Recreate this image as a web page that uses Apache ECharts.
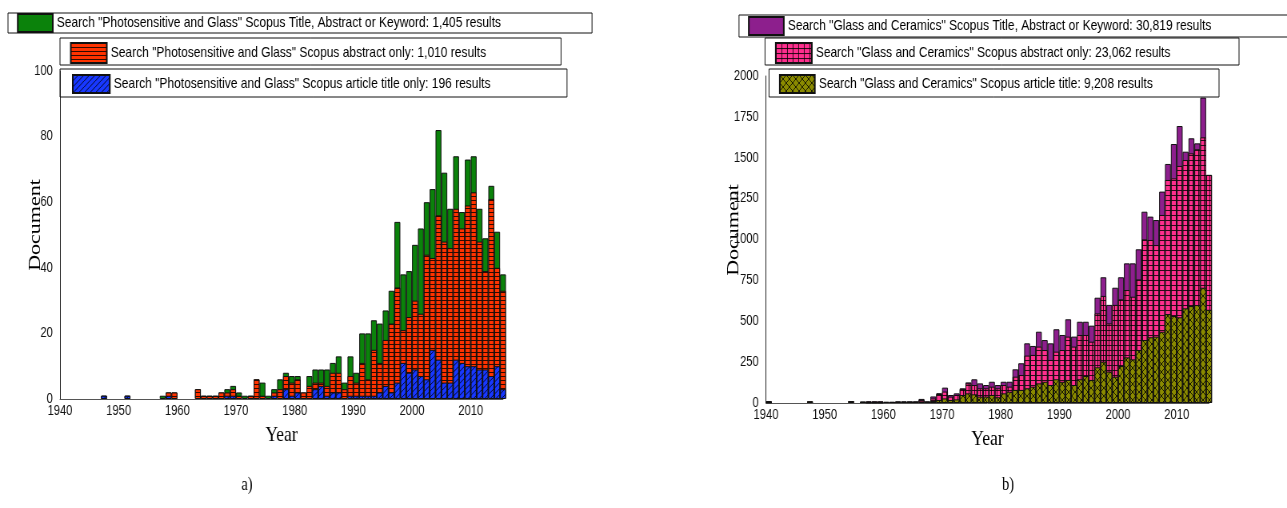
<!DOCTYPE html>
<html>
<head>
<meta charset="utf-8">
<script src="https://cdn.jsdelivr.net/npm/echarts@6/dist/echarts.min.js"></script>
<style>
  html, body { margin: 0; padding: 0; background: #fff; overflow: hidden; }
  #frame { width: 1287px; height: 508px; overflow: hidden; position: relative; }
  #chart { position: absolute; left: 0; top: 0; transform-origin: 0 0; }
</style>
</head>
<body>
<div id="frame"><div id="chart"></div></div>
<script>
// Publication years covered by both panels (one bar per year, 1940 … 2015)
const FIRST_YEAR = 1940;
const YEARS = Array.from({ length: 76 }, (_, i) => FIRST_YEAR + i);

// Panel a) – "Photosensitive and Glass"
const PHOTO_NAMES = [
  'Search "Photosensitive and Glass" Scopus Title, Abstract or Keyword: 1,405 results',
  'Search "Photosensitive and Glass" Scopus abstract only: 1,010 results',
  'Search "Photosensitive and Glass" Scopus article title only: 196 results'
];
const PHOTO_TOTAL = [
  0,0,0,0,0,0,0,1,0,0,
  0,1,0,0,0,0,0,1,2,2,
  0,0,0,3,1,1,1,2,3,4,
  2,1,1,6,5,1,3,6,8,7,
  7,2,7,9,9,9,11,13,5,13,
  8,20,20,24,23,27,33,54,38,39,
  47,52,60,64,82,69,58,74,57,73,
  74,58,49,65,51,38
];
const PHOTO_ABSTRACT = [
  0,0,0,0,0,0,0,1,0,0,
  0,1,0,0,0,0,0,0,2,2,
  0,0,0,3,1,1,1,2,2,3,
  1,0,1,6,1,0,2,3,7,5,
  6,2,4,5,5,4,8,8,3,7,
  5,11,6,15,11,18,23,34,21,25,
  30,26,44,43,56,48,46,58,52,59,
  63,48,39,61,40,33
];
const PHOTO_TITLE = [
  0,0,0,0,0,0,0,1,0,0,
  0,1,0,0,0,0,0,0,1,0,
  0,0,0,0,0,0,0,0,1,1,
  0,0,0,0,0,0,1,0,3,1,
  2,0,0,3,4,1,2,2,0,1,
  1,1,1,1,2,4,2,5,11,8,
  9,7,6,15,12,5,5,12,11,10,
  10,9,9,7,10,3
];

// Panel b) – "Glass and Ceramics"
const CERAMIC_NAMES = [
  'Search "Glass and Ceramics" Scopus Title, Abstract or Keyword: 30,819 results',
  'Search "Glass and Ceramics" Scopus abstract only: 23,062 results',
  'Search "Glass and Ceramics" Scopus article title: 9,208 results'
];
const CERAMIC_TOTAL = [
  12,0,0,0,0,0,0,10,0,0,
  0,0,0,0,12,0,8,10,10,10,
  8,8,10,10,10,10,25,10,40,60,
  94,49,59,90,126,145,120,110,130,110,
  130,130,206,243,365,349,436,385,365,451,
  416,512,406,497,497,473,644,769,600,705,
  769,854,854,940,1170,1140,1119,1293,1462,1584,
  1694,1537,1619,1588,1868,1395
];
const CERAMIC_ABSTRACT = [
  8,0,0,0,0,0,0,10,0,0,
  0,0,0,0,12,0,8,10,10,10,
  6,6,8,8,8,8,20,8,28,55,
  70,39,49,85,120,110,90,90,100,90,
  110,100,161,171,290,294,345,324,263,314,
  324,406,345,416,416,375,548,655,487,600,
  634,691,650,756,1001,997,966,1150,1364,1374,
  1450,1486,1527,1552,1625,1395
];
const CERAMIC_TITLE = [
  4,0,0,0,0,0,0,10,0,0,
  0,0,0,0,12,0,8,3,3,3,
  6,6,8,8,8,8,10,8,12,18,
  28,18,22,49,59,53,39,39,49,35,
  59,69,80,80,90,100,120,130,110,145,
  130,141,110,145,165,141,218,253,192,161,
  226,279,267,324,385,402,406,436,544,532,
  524,579,593,599,705,570
];

// Axis tick settings
const X_MIN = 1940, X_MAX = 2015.5, X_STEP = 10;
const PHOTO_Y = { max: 100, step: 20 };
const CERAMIC_Y = { max: 2000, step: 250 };

// ---- page geometry: the figure is drawn wide and compressed horizontally ----
const PAGE_W = 1287, PAGE_H = 508;
const DRAW_W = 1609;
const SX = PAGE_W / DRAW_W;
const V = x => x / SX;              // page x  ->  drawing x

// ---- fill patterns --------------------------------------------------------
function tile(bg, w, h, draw) {
  const c = document.createElement('canvas');
  c.width = w; c.height = h;
  const g = c.getContext('2d');
  g.fillStyle = bg;
  g.fillRect(0, 0, w, h);
  g.strokeStyle = 'rgba(0,0,0,0.8)';
  g.lineWidth = 1;
  g.beginPath();
  draw(g, w, h);
  g.stroke();
  return { image: c, repeat: 'repeat' };
}
const FILL = {
  green: '#0b820b',
  red: tile('#ff3300', 6, 4, (g, w) => { g.moveTo(0, 0.5); g.lineTo(w, 0.5); }),
  blue: tile('#1838ff', 7, 6, (g, w, h) => {
    g.moveTo(0, h); g.lineTo(w, 0);
    g.moveTo(-w, h); g.lineTo(0, 0);
    g.moveTo(w, h); g.lineTo(2 * w, 0);
  }),
  purple: '#8d1f8d',
  pink: tile('#ff2f8e', 7, 5, (g, w, h) => {
    g.moveTo(0.5, 0); g.lineTo(0.5, h);
    g.moveTo(0, 0.5); g.lineTo(w, 0.5);
  }),
  olive: tile('#8a8a00', 8, 8, (g, w, h) => {
    g.moveTo(0, 0); g.lineTo(w, h);
    g.moveTo(w, 0); g.lineTo(0, h);
  })
};

// ---- plot areas (page pixels) -----------------------------------------------
const PLOTS = [
  { x0: 60, x1: 503, y0: 71, y1: 399 },
  { x0: 766, x1: 1209, y0: 76, y1: 403 }
];
const GRIDS = PLOTS.map(p => ({
  left: V(p.x0), right: DRAW_W - V(p.x1), top: p.y0, bottom: PAGE_H - p.y1
}));
const BAR_W = (V(PLOTS[0].x1) - V(PLOTS[0].x0)) / (X_MAX - X_MIN);

const SANS = '"Liberation Sans", Arial, sans-serif';
const SERIF = '"Liberation Serif", "Times New Roman", serif';
const TICK_FONT = { fontFamily: SANS, fontSize: 14, color: '#111' };

function xAxis(gridIndex) {
  return {
    type: 'value', gridIndex, min: X_MIN, max: X_MAX, interval: X_STEP,
    name: 'Year', nameLocation: 'middle', nameGap: 25,
    nameTextStyle: { fontFamily: SERIF, fontSize: 22, color: '#000' },
    axisLine: { lineStyle: { color: '#555', width: 1 } },
    axisTick: { show: false },
    splitLine: { show: false },
    axisLabel: { ...TICK_FONT, margin: 5, formatter: v => (v % X_STEP === 0 ? String(v) : '') }
  };
}
function yAxis(gridIndex, cfg) {
  return {
    type: 'value', gridIndex, min: 0, max: cfg.max, interval: cfg.step,
    axisLine: { show: true, lineStyle: { color: '#222', width: 1 } },
    axisTick: { show: false },
    splitLine: { show: false },
    axisLabel: { ...TICK_FONT, margin: 9, formatter: v => String(v) }
  };
}

function barSeries(name, values, fill, axis) {
  return {
    name, type: 'bar', xAxisIndex: axis, yAxisIndex: axis,
    data: YEARS.map((y, i) => (values[i] > 0 ? [y + 0.5, values[i]] : null)).filter(Boolean),
    barWidth: BAR_W, barGap: '-100%',
    clip: true,
    itemStyle: { color: fill, borderColor: '#111', borderWidth: 1 },
    emphasis: { disabled: true }
  };
}

// Boxed legend entry, given in page pixels:
// box left/top/right, icon left/width/height, padding above and below
function legendBox(name, b) {
  return {
    data: [name],
    left: V(b.left), top: b.top,
    padding: [b.padTop, 0, b.padBottom, V(b.iconLeft) - V(b.left)],
    orient: 'horizontal', itemGap: 0,
    itemWidth: V(b.iconLeft + b.iconW) - V(b.iconLeft), itemHeight: b.iconH,
    icon: 'rect', selectedMode: false,
    borderColor: '#111', borderWidth: 1,
    textStyle: {
      fontFamily: SANS, fontSize: 15, color: '#000',
      lineHeight: b.iconH,
      width: V(b.right) - V(b.iconLeft + b.iconW) - 6,
      overflow: 'none'
    }
  };
}

const chart = echarts.init(document.getElementById('chart'), null,
  { renderer: 'canvas', width: DRAW_W, height: PAGE_H });
document.getElementById('chart').style.transform = 'scaleX(' + SX + ')';

chart.setOption({
  animation: false,
  backgroundColor: '#fff',
  grid: GRIDS,
  xAxis: [xAxis(0), xAxis(1)],
  yAxis: [yAxis(0, PHOTO_Y), yAxis(1, CERAMIC_Y)],
  legend: [
    legendBox(PHOTO_NAMES[0],   { left: 8,   top: 13, right: 592,  iconLeft: 17,  iconW: 35, iconH: 18, padTop: 0, padBottom: 0 }),
    legendBox(PHOTO_NAMES[1],   { left: 60,  top: 38, right: 561,  iconLeft: 70,  iconW: 36, iconH: 20, padTop: 4, padBottom: 1 }),
    legendBox(PHOTO_NAMES[2],   { left: 60,  top: 69, right: 567,  iconLeft: 72,  iconW: 37, iconH: 18, padTop: 5, padBottom: 3 }),
    legendBox(CERAMIC_NAMES[0], { left: 739, top: 15, right: 1300, iconLeft: 748, iconW: 35, iconH: 18, padTop: 1, padBottom: 1 }),
    legendBox(CERAMIC_NAMES[1], { left: 765, top: 38, right: 1239, iconLeft: 775, iconW: 36, iconH: 20, padTop: 4, padBottom: 1 }),
    legendBox(CERAMIC_NAMES[2], { left: 769, top: 69, right: 1219, iconLeft: 779, iconW: 35, iconH: 18, padTop: 5, padBottom: 3 })
  ],
  series: [
    barSeries(PHOTO_NAMES[0], PHOTO_TOTAL, FILL.green, 0),
    barSeries(PHOTO_NAMES[1], PHOTO_ABSTRACT, FILL.red, 0),
    barSeries(PHOTO_NAMES[2], PHOTO_TITLE, FILL.blue, 0),
    barSeries(CERAMIC_NAMES[0], CERAMIC_TOTAL, FILL.purple, 1),
    barSeries(CERAMIC_NAMES[1], CERAMIC_ABSTRACT, FILL.pink, 1),
    barSeries(CERAMIC_NAMES[2], CERAMIC_TITLE, FILL.olive, 1)
  ],
  graphic: [
    { type: 'text', x: V(35), y: 225, rotation: Math.PI / 2,
      style: { text: 'Document', font: '22px ' + SERIF, fill: '#000', textAlign: 'center', textVerticalAlign: 'middle' } },
    { type: 'text', x: V(734), y: 230, rotation: Math.PI / 2,
      style: { text: 'Document', font: '22px ' + SERIF, fill: '#000', textAlign: 'center', textVerticalAlign: 'middle' } },
    { type: 'text', x: V(247), y: 485,
      style: { text: 'a)', font: '18px ' + SERIF, fill: '#000', textAlign: 'center', textVerticalAlign: 'middle' } },
    { type: 'text', x: V(1008), y: 485,
      style: { text: 'b)', font: '18px ' + SERIF, fill: '#000', textAlign: 'center', textVerticalAlign: 'middle' } }
  ]
});
</script>
</body>
</html>
